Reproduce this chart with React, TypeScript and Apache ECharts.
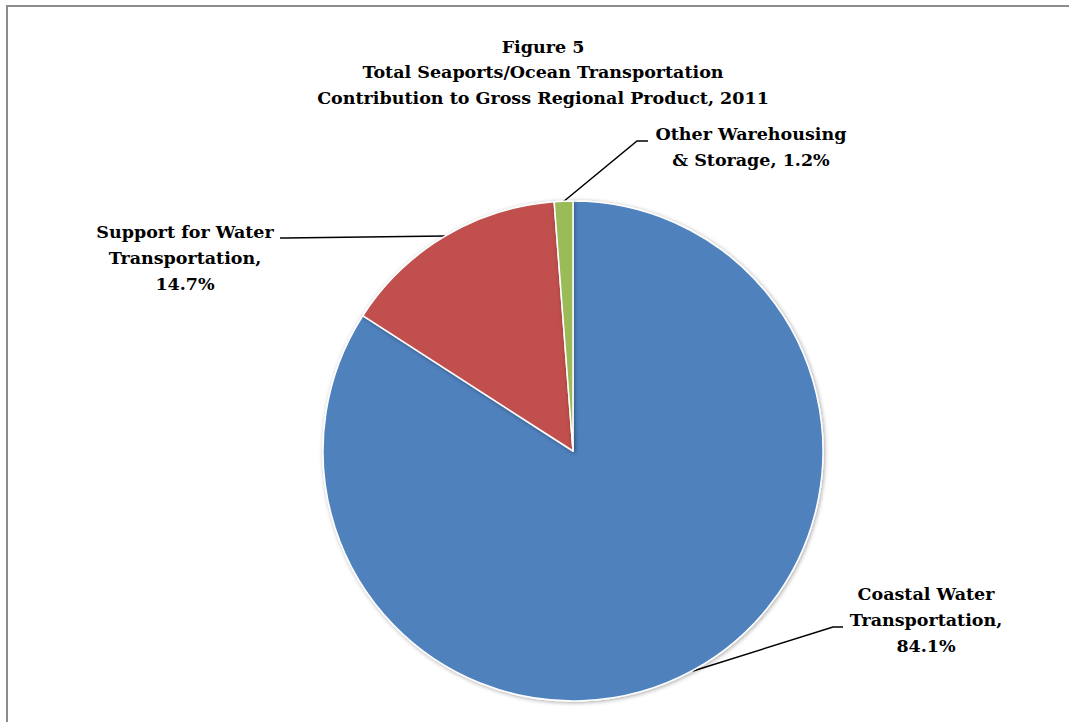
import React, { useEffect, useRef } from "react";
import * as echarts from "echarts";

const categories = [
  "Coastal Water Transportation",
  "Support for Water Transportation",
  "Other Warehousing & Storage",
];
const shares = [84.1, 14.7, 1.2];
const labelLines = [
  ["Coastal Water", "Transportation,"],
  ["Support for Water", "Transportation,"],
  ["Other Warehousing", "& Storage,"],
];
const colors = ["#4F81BD", "#C0504D", "#9BBB59"];
const titleLines = [
  "Figure 5",
  "Total Seaports/Ocean Transportation",
  "Contribution to Gross Regional Product, 2011",
];

const FONT = "'DejaVu Serif', serif";

export default function App() {
  const ref = useRef<HTMLDivElement>(null);
  useEffect(() => {
    if (!ref.current) return;
    const chart = echarts.init(ref.current, undefined, { renderer: "svg" });
    const layouts = [
      { x: 926, y: 620, pts: [[693, 671], [833, 627], [843, 627]] },
      { x: 185, y: 258, pts: [[445, 236], [285, 238], [280, 238]] },
      { x: 751, y: 147, pts: [[563, 202], [637, 141], [648, 141]] },
    ];
    chart.setOption({
      animation: false,
      backgroundColor: "#ffffff",
      title: {
        text: titleLines.join("\n"),
        left: 538,
        top: 29,
        textAlign: "center",
        textStyle: {
          fontFamily: FONT,
          fontWeight: "bold",
          fontSize: 17.5,
          lineHeight: 25.5,
          color: "#000",
        },
      },
      graphic: [
        {
          type: "rect",
          shape: { x: 7, y: 6, width: 1200, height: 900 },
          style: { fill: "none", stroke: "#8c8c8c", lineWidth: 2 },
          silent: true,
        },
      ],
      series: [
        {
          type: "pie",
          center: [573, 451],
          radius: [0, 250],
          startAngle: 90,
          clockwise: true,
          data: categories.map((c, i) => ({
            name: c,
            value: shares[i],
            itemStyle: { color: colors[i] },
          })),
          itemStyle: {
            borderColor: "#ffffff",
            borderWidth: 1.5,
            shadowColor: "rgba(0,0,0,0.35)",
            shadowBlur: 4,
            shadowOffsetX: 1,
            shadowOffsetY: 1,
          },
          label: {
            show: true,
            fontFamily: FONT,
            fontWeight: "bold",
            fontSize: 17.5,
            lineHeight: 26,
            color: "#000",
            align: "center",
            formatter: (p: any) => {
              const l = labelLines[p.dataIndex];
              const pct = shares[p.dataIndex].toFixed(1) + "%";
              if (p.dataIndex === 2) return l[0] + "\n" + l[1] + " " + pct;
              return l[0] + "\n" + l[1] + "\n" + pct;
            },
          },
          labelLine: {
            show: true,
            lineStyle: { color: "#000", width: 1.5 },
          },
          labelLayout: (params: any) => {
            const L = layouts[params.dataIndex];
            return {
              x: L.x,
              y: L.y,
              align: "center",
              verticalAlign: "middle",
              labelLinePoints: L.pts,
            };
          },
        },
      ],
    });
    return () => chart.dispose();
  }, []);
  return (
    <div
      ref={ref}
      style={{ position: "absolute", left: 0, top: 0, width: 1069, height: 722 }}
    />
  );
}
